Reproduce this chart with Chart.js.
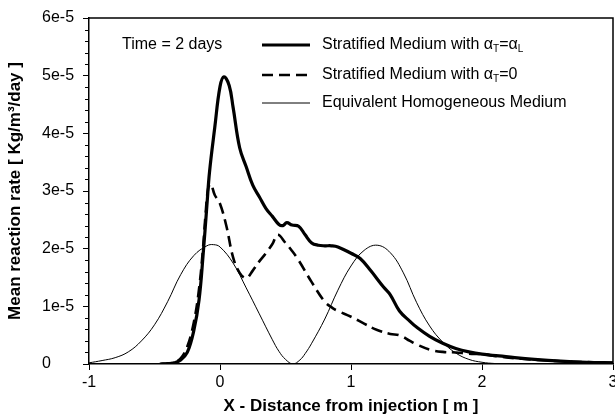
<!DOCTYPE html>
<html>
<head>
<meta charset="utf-8">
<script src="https://cdn.jsdelivr.net/npm/chart.js@4.4.1/dist/chart.umd.min.js"></script>
<style>
  html, body { margin: 0; padding: 0; background: #fff; }
  canvas { display: block; }
</style>
</head>
<body>
<canvas id="chart" width="615" height="418"></canvas>
<script>
// reaction rate values are in units of 1e-5 Kg/m3/day
const thickX = [-0.46, -0.4, -0.35, -0.3, -0.25, -0.2, -0.16, -0.13, -0.1, -0.08, -0.04, 0.0, 0.03, 0.07, 0.1, 0.15, 0.2, 0.25, 0.3, 0.35, 0.4, 0.45, 0.48, 0.51, 0.55, 0.6, 0.65, 0.7, 0.75, 0.8, 0.85, 0.9, 1.0, 1.07, 1.15, 1.25, 1.3, 1.37, 1.45, 1.5, 1.6, 1.7, 1.8, 1.9, 2.0, 2.13, 2.25, 2.4, 2.6, 2.8, 3.0];
const thickY = [0, 0.005, 0.02, 0.07, 0.2, 0.58, 1.11, 1.86, 2.75, 3.33, 4.1, 4.81, 4.98, 4.83, 4.45, 3.75, 3.42, 3.1, 2.9, 2.7, 2.56, 2.42, 2.4, 2.45, 2.41, 2.39, 2.24, 2.1, 2.06, 2.05, 2.05, 2.03, 1.92, 1.83, 1.62, 1.33, 1.2, 0.92, 0.74, 0.64, 0.48, 0.36, 0.27, 0.21, 0.17, 0.14, 0.11, 0.08, 0.05, 0.03, 0.02];

const dashX = [-0.45, -0.4, -0.35, -0.3, -0.25, -0.2, -0.16, -0.13, -0.11, -0.09, -0.07, -0.04, 0.0, 0.05, 0.1, 0.15, 0.2, 0.25, 0.3, 0.35, 0.4, 0.44, 0.5, 0.55, 0.6, 0.7, 0.8, 0.86, 0.9, 1.0, 1.1, 1.2, 1.3, 1.37, 1.45, 1.5, 1.6, 1.7, 1.8, 1.9, 2.0, 2.13, 2.3, 2.5, 2.7, 3.0];
const dashY = [0, 0.01, 0.03, 0.1, 0.3, 0.72, 1.3, 2.0, 2.6, 3.05, 3.12, 2.93, 2.78, 2.38, 1.85, 1.58, 1.49, 1.62, 1.78, 1.92, 2.08, 2.24, 2.1, 1.96, 1.8, 1.42, 1.08, 0.97, 0.92, 0.82, 0.7, 0.59, 0.52, 0.5, 0.4, 0.34, 0.25, 0.21, 0.2, 0.18, 0.17, 0.13, 0.09, 0.06, 0.04, 0.02];

const thinX = [-1.0, -0.9, -0.8, -0.7, -0.6, -0.5, -0.4, -0.3, -0.2, -0.1, -0.05, 0.0, 0.1, 0.2, 0.3, 0.4, 0.45, 0.5, 0.557, 0.61, 0.65, 0.7, 0.8, 0.9, 1.0, 1.1, 1.2, 1.3, 1.4, 1.5, 1.6, 1.7, 1.8, 1.9, 2.0, 2.1, 2.2, 3.0];
const thinY = [0.02, 0.06, 0.11, 0.21, 0.4, 0.68, 1.08, 1.55, 1.88, 2.05, 2.07, 2.03, 1.75, 1.32, 0.87, 0.42, 0.22, 0.08, 0, 0.07, 0.18, 0.36, 0.78, 1.28, 1.7, 1.97, 2.06, 1.93, 1.58, 1.07, 0.66, 0.38, 0.19, 0.08, 0.03, 0.008, 0, 0];

const seriesNames = ['Stratified Medium with α_T=α_L', 'Stratified Medium with α_T=0', 'Equivalent Homogeneous Medium'];
const xTicks = [-1, 0, 1, 2, 3];
const yTicks = [0, 1, 2, 3, 4, 5, 6];
const note = 'Time = 2 days';

const FONT = '"Liberation Sans", Arial, Helvetica, sans-serif';

const toPoints = (xs, ys) => xs.map((x, i) => ({ x: x, y: ys[i] }));

// text with "_X" subscripts
function drawRich(ctx, text, x, y) {
  const parts = text.split(/_(.)/);
  parts.forEach((part, i) => {
    if (i % 2 === 0) {
      ctx.font = '16px ' + FONT;
      ctx.fillText(part, x, y);
    } else {
      ctx.font = '10px ' + FONT;
      ctx.fillText(part, x, y + 4);
    }
    x += ctx.measureText(part).width;
  });
}

const decor = {
  id: 'decor',
  afterDraw(chart) {
    const { ctx, chartArea: a, scales: { y } } = chart;
    ctx.save();
    ctx.strokeStyle = '#000';
    ctx.fillStyle = '#000';

    // top and right edges of the frame
    ctx.lineWidth = 1.5;
    ctx.beginPath();
    ctx.moveTo(a.left, a.top);
    ctx.lineTo(a.right, a.top);
    ctx.lineTo(a.right, a.bottom);
    ctx.stroke();

    // minor ticks on y
    ctx.lineWidth = 1;
    for (let i = 1; i < 30; i++) {
      if (i % 5 === 0) continue;
      const py = Math.round(y.getPixelForValue(i * 0.2)) + 0.5;
      ctx.beginPath();
      ctx.moveTo(a.left - 4, py);
      ctx.lineTo(a.left, py);
      ctx.stroke();
    }

    // y tick labels, left aligned
    ctx.font = '16px ' + FONT;
    ctx.textAlign = 'left';
    ctx.textBaseline = 'middle';
    y.ticks.forEach(t => {
      ctx.fillText(t.label, 42, y.getPixelForValue(t.value));
    });

    ctx.fillText(note, 122, 45);

    // legend
    const rows = [45, 75, 103];
    chart.data.datasets.forEach((ds, i) => {
      ctx.lineWidth = ds.borderWidth;
      ctx.setLineDash(ds.borderDash || []);
      ctx.beginPath();
      ctx.moveTo(262, rows[i]);
      ctx.lineTo(310, rows[i]);
      ctx.stroke();
      ctx.setLineDash([]);
      drawRich(ctx, seriesNames[i], 322, rows[i]);
    });
    ctx.restore();
  }
};

new Chart(document.getElementById('chart'), {
  type: 'line',
  data: {
    datasets: [
      {
        label: seriesNames[0].replace(/_/g, ''),
        data: toPoints(thickX, thickY),
        borderColor: '#000',
        borderWidth: 3.2,
      },
      {
        label: seriesNames[1].replace(/_/g, ''),
        data: toPoints(dashX, dashY),
        borderColor: '#000',
        borderWidth: 2.6,
        borderDash: [11, 6],
      },
      {
        label: seriesNames[2],
        data: toPoints(thinX, thinY),
        borderColor: '#000',
        borderWidth: 1,
      },
    ],
  },
  options: {
    responsive: false,
    animation: false,
    devicePixelRatio: 1,
    elements: {
      point: { radius: 0 },
      line: { tension: 0.4, fill: false },
    },
    layout: {
      padding: { top: 18, right: 2, left: 0, bottom: 0 },
    },
    plugins: {
      legend: { display: false },
      tooltip: { enabled: false },
    },
    scales: {
      x: {
        type: 'linear',
        min: xTicks[0],
        max: xTicks[xTicks.length - 1],
        afterBuildTicks: scale => {
          scale.ticks = xTicks.map(v => ({ value: v }));
        },
        ticks: {
          color: '#000',
          font: { family: FONT, size: 16 },
          padding: 3,
          maxRotation: 0,
          autoSkip: false,
          callback: v => String(v),
        },
        grid: {
          drawOnChartArea: false,
          drawTicks: true,
          tickLength: 6,
          tickColor: '#000',
          tickWidth: 1,
        },
        border: { display: true, color: '#000', width: 1.5 },
        title: {
          display: true,
          text: 'X - Distance from injection [ m ]',
          color: '#000',
          font: { family: FONT, size: 17, weight: 'bold' },
          padding: { top: 0, bottom: 1 },
        },
        afterFit: scale => {
          scale.height = 54;
          scale.paddingLeft = 0;
          scale.paddingRight = 0;
        },
      },
      y: {
        type: 'linear',
        min: yTicks[0],
        max: yTicks[yTicks.length - 1],
        afterBuildTicks: scale => {
          scale.ticks = yTicks.map(v => ({ value: v }));
        },
        ticks: {
          display: false,
          callback: v => (v === 0 ? '0' : v + 'e-5'),
        },
        grid: {
          drawOnChartArea: false,
          drawTicks: true,
          tickLength: 6,
          tickColor: '#000',
          tickWidth: 1,
        },
        border: { display: true, color: '#000', width: 1.5 },
        title: {
          display: true,
          text: 'Mean reaction rate [ Kg/m³/day ]',
          color: '#000',
          font: { family: FONT, size: 17, weight: 'bold' },
          padding: { top: 5, bottom: 0 },
        },
        afterFit: scale => {
          scale.width = 89;
          scale.paddingTop = 0;
          scale.paddingBottom = 0;
        },
      },
    },
  },
  plugins: [decor],
});
</script>
</body>
</html>
